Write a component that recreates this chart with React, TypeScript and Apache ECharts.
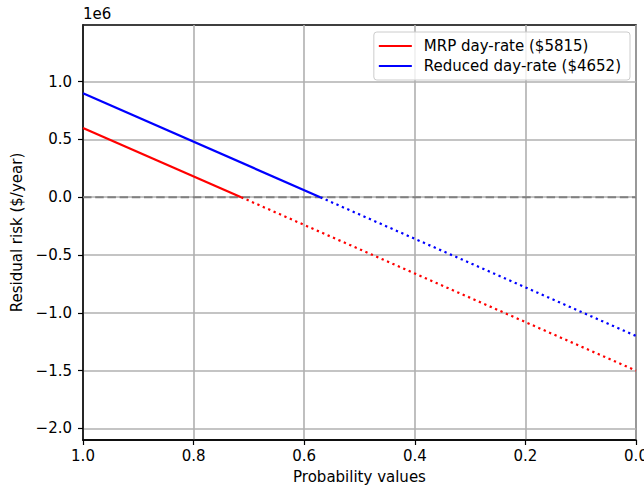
import React, { useEffect, useRef } from "react";
import * as echarts from "echarts";

// Data
const mrpName = "MRP day-rate ($5815)";
const reducedName = "Reduced day-rate ($4652)";
const mrpProb = [1.0, 0.714, 0.0];
const mrpRisk = [600000, 0, -1500000];
const reducedProb = [1.0, 0.571, 0.0];
const reducedRisk = [900000, 0, -1200000];
const zeroProb = [1.0, 0.0];
const zeroRisk = [0, 0];
const yTicks = [-2000000, -1500000, -1000000, -500000, 0, 500000, 1000000];
const xLabel = "Probability values";
const yLabel = "Residual risk ($/year)";
const yOffsetText = "1e6";

const FONT = "DejaVu Sans";
const FS = 15;

function pts(xs: number[], ys: number[], from: number, to: number) {
  const out: number[][] = [];
  for (let i = from; i <= to; i++) out.push([xs[i], ys[i]]);
  return out;
}

export default function App() {
  const ref = useRef<HTMLDivElement>(null);
  useEffect(() => {
    if (!ref.current) return;
    const chart = echarts.init(ref.current, undefined, { renderer: "svg" });
    const dotted = [2.3, 3.6];
    chart.setOption({
      animation: false,
      backgroundColor: "#ffffff",
      textStyle: { fontFamily: FONT },
      grid: {
        left: 83,
        right: 8,
        top: 25,
        bottom: 47,
        containLabel: false,
        outerBoundsMode: "none",
        show: true,
        borderColor: "#000000",
        borderWidth: 1.5,
        backgroundColor: "transparent",
      },
      legend: {
        show: true,
        data: [mrpName, reducedName],
        orient: "vertical",
        align: "left",
        right: 14,
        top: 32,
        padding: [6, 9, 6, 5],
        itemGap: 4,
        itemWidth: 33,
        itemHeight: 2,
        icon: "rect",
        backgroundColor: "rgba(255,255,255,0.8)",
        borderColor: "#cccccc",
        borderWidth: 1,
        borderRadius: 3,
        textStyle: {
          fontFamily: FONT,
          fontSize: FS,
          color: "#000000",
          padding: [0, 0, 0, 7],
          lineHeight: 16,
        },
      },
      xAxis: {
        type: "value",
        inverse: true,
        min: 0,
        max: 1,
        interval: 0.2,
        name: xLabel,
        nameLocation: "middle",
        nameGap: 29,
        nameTextStyle: { fontFamily: FONT, fontSize: FS, color: "#000000" },
        axisLine: { show: true, onZero: false, lineStyle: { color: "#000000", width: 1.5 } },
        axisTick: { show: true, length: 5, lineStyle: { color: "#000000", width: 1.2 } },
        axisLabel: {
          margin: 8,
          fontFamily: FONT,
          fontSize: FS,
          color: "#000000",
          formatter: (v: number) => v.toFixed(1),
        },
        splitLine: { show: true, lineStyle: { color: "#b0b0b0", width: 1.6 } },
      },
      yAxis: {
        type: "value",
        min: -2100000,
        max: 1490000,
        name: yLabel,
        nameLocation: "middle",
        nameGap: 51,
        nameTextStyle: { fontFamily: FONT, fontSize: FS, color: "#000000" },
        axisLine: { show: true, onZero: false, lineStyle: { color: "#000000", width: 1.5 } },
        axisTick: {
          show: true,
          length: 5,
          customValues: yTicks,
          lineStyle: { color: "#000000", width: 1.2 },
        },
        axisLabel: {
          margin: 11,
          customValues: yTicks,
          fontFamily: FONT,
          fontSize: FS,
          color: "#000000",
          formatter: (v: number) => (v / 1e6).toFixed(1).replace("-", "\u2212"),
        },
        splitLine: { show: true, lineStyle: { color: "#b0b0b0", width: 1.6 } },
      },
      graphic: [
        {
          type: "text",
          left: 83,
          top: 6,
          style: { text: yOffsetText, fontFamily: FONT, fontSize: FS, fill: "#000000" },
        },
      ],
      series: [
        {
          type: "line",
          name: "zero",
          color: "#808080",
          showSymbol: false,
          symbol: "none",
          silent: true,
          lineStyle: { color: "#808080", width: 2.2, type: [8.5, 3.7] },
          data: pts(zeroProb, zeroRisk, 0, 1),
        },
        {
          type: "line",
          name: mrpName,
          color: "#ff0000",
          showSymbol: false,
          symbol: "none",
          lineStyle: { color: "#ff0000", width: 2.2 },
          data: pts(mrpProb, mrpRisk, 0, 1),
        },
        {
          type: "line",
          name: "mrp-neg",
          color: "#ff0000",
          showSymbol: false,
          symbol: "none",
          lineStyle: { color: "#ff0000", width: 2.2, type: dotted },
          data: pts(mrpProb, mrpRisk, 1, 2),
        },
        {
          type: "line",
          name: reducedName,
          color: "#0000ff",
          showSymbol: false,
          symbol: "none",
          lineStyle: { color: "#0000ff", width: 2.2 },
          data: pts(reducedProb, reducedRisk, 0, 1),
        },
        {
          type: "line",
          name: "reduced-neg",
          color: "#0000ff",
          showSymbol: false,
          symbol: "none",
          lineStyle: { color: "#0000ff", width: 2.2, type: dotted },
          data: pts(reducedProb, reducedRisk, 1, 2),
        },
      ],
    });
    return () => chart.dispose();
  }, []);
  return (
    <div
      ref={ref}
      style={{ position: "absolute", left: 0, top: 0, width: 644, height: 487 }}
    />
  );
}
